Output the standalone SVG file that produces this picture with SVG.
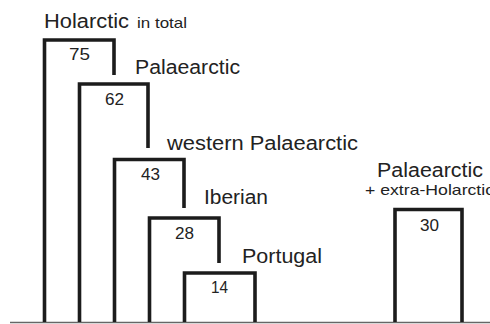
<svg xmlns="http://www.w3.org/2000/svg" width="490" height="324" viewBox="0 0 490 324">
<style>
.box{fill:none;stroke:#1c1c1c;stroke-width:3.6;stroke-linejoin:miter;stroke-linecap:butt}
.lbl{font-family:"Liberation Sans",Arial,sans-serif;font-size:20px;fill:#222}
.sm{font-family:"Liberation Sans",Arial,sans-serif;font-size:15px;fill:#222}
.num{font-family:"Liberation Sans",Arial,sans-serif;font-size:16px;fill:#222}
</style>
<rect width="490" height="324" fill="#fff"/>
<g id="baseline"><line x1="10" y1="322.5" x2="490" y2="322.5" stroke="#666" stroke-width="1.5"/></g>
<g id="connectors">
<path class="box" d="M44.5,322 V40 H114 V75"/>
<path class="box" d="M79.5,322 V84 H148 V148"/>
<path class="box" d="M114.5,322 V159.5 H184 V208"/>
<path class="box" d="M149.5,322 V218 H219 V263"/>
</g>
<g id="holarctic">
<text class="lbl" x="44" y="28" textLength="85" lengthAdjust="spacingAndGlyphs">Holarctic</text>
<text class="sm" x="137" y="28" textLength="50" lengthAdjust="spacingAndGlyphs">in total</text>
<text class="num" x="69" y="60" textLength="21" lengthAdjust="spacingAndGlyphs">75</text>
</g>
<g id="palaearctic">
<text class="lbl" x="135" y="74" textLength="105" lengthAdjust="spacingAndGlyphs">Palaearctic</text>
<text class="num" x="105" y="105" textLength="19" lengthAdjust="spacingAndGlyphs">62</text>
</g>
<g id="western-palaearctic">
<text class="lbl" x="167" y="150" textLength="191" lengthAdjust="spacingAndGlyphs">western Palaearctic</text>
<text class="num" x="141" y="180" textLength="19" lengthAdjust="spacingAndGlyphs">43</text>
</g>
<g id="iberian">
<text class="lbl" x="204" y="204" textLength="64" lengthAdjust="spacingAndGlyphs">Iberian</text>
<text class="num" x="175" y="239" textLength="19" lengthAdjust="spacingAndGlyphs">28</text>
</g>
<g id="portugal">
<path class="box" d="M184.5,322 V273 H255 V322"/>
<text class="lbl" x="242" y="263" textLength="80" lengthAdjust="spacingAndGlyphs">Portugal</text>
<text class="num" x="211" y="293" textLength="17" lengthAdjust="spacingAndGlyphs">14</text>
</g>
<g id="palaearctic-extra">
<path class="box" d="M395,322 V209.5 H462 V322"/>
<text class="lbl" x="377" y="177" textLength="106" lengthAdjust="spacingAndGlyphs">Palaearctic</text>
<text class="sm" x="365" y="195" textLength="129" lengthAdjust="spacingAndGlyphs">+ extra-Holarctic</text>
<text class="num" x="420" y="231" textLength="19" lengthAdjust="spacingAndGlyphs">30</text>
</g>
</svg>
